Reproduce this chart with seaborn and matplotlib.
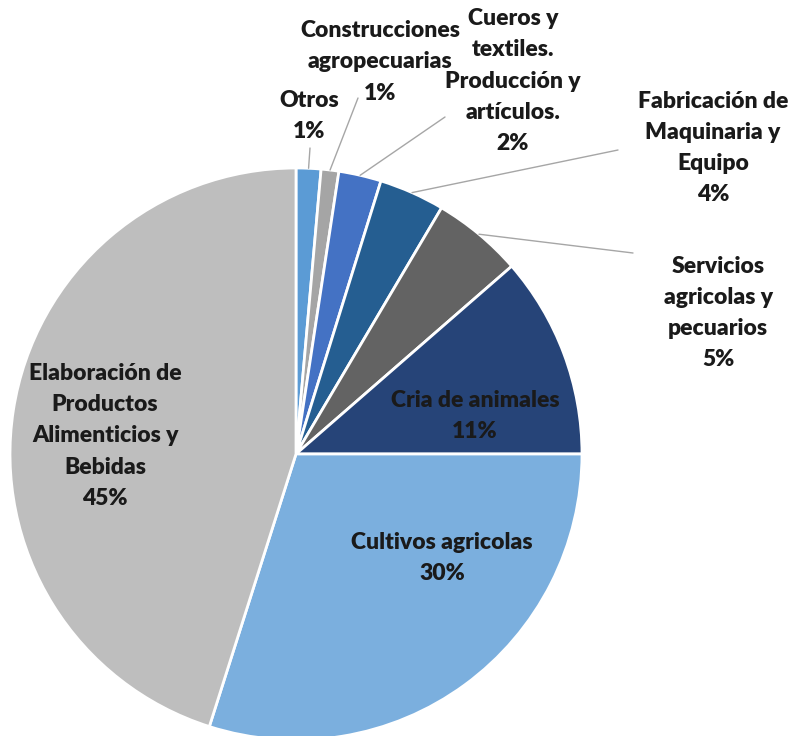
import numpy as np
import matplotlib.pyplot as plt
import seaborn as sns

# sector shares (%), clockwise from 12 o'clock
sectores = ['Otros', 'Construcciones\nagropecuarias', 'Cueros y\ntextiles.\nProducción y\nartículos.',
            'Fabricación de\nMaquinaria y\nEquipo', 'Servicios\nagricolas y\npecuarios',
            'Cria de animales', 'Cultivos agricolas',
            'Elaboración de\nProductos\nAlimenticios y\nBebidas']
shares = [1.4, 1.0, 2.4, 3.7, 5.1, 11.4, 29.9, 45.1]
colores = ['#5B9BD5', '#A5A5A5', '#4472C4', '#255E91', '#636363', '#264478', '#7BAFDE', '#BEBEBE']

sns.set_theme(style='white')
plt.rcParams['font.family'] = ['Lato', 'DejaVu Sans']

W, H = 794, 736
fig = plt.figure(figsize=(W / 100, H / 100), dpi=100)
ax = fig.add_axes([0, 0, 1, 1])
cx, cy, R = 296, H - 454, 286

wedges, _ = ax.pie(shares, colors=colores, startangle=90, counterclock=False,
                   center=(cx, cy), radius=R, frame=True,
                   wedgeprops=dict(edgecolor='white', linewidth=2))
ax.set_xlim(0, W)
ax.set_ylim(0, H)
ax.set_aspect('equal')
ax.axis('off')

# label anchors (pixel layout), inside labels have no leader line
pos = [(309, 116), (380, 62), (513, 81), (713, 148), (718, 313),
       (475, 416), (442, 558), (105, 436)]
leader_end = [(310, 148), (358, 98), (445, 117), (618, 150), (633, 253), None, None, None]

for w, lab, val, (lx, ly), end in zip(wedges, sectores, shares, pos, leader_end):
    ax.text(lx, H - ly, f'{lab}\n{val:.0f}%', ha='center', va='center',
            fontsize=16.5, fontweight='heavy', color='#1a1a1a', linespacing=1.6)
    if end is not None:
        ang = np.deg2rad((w.theta1 + w.theta2) / 2)
        x0, y0 = cx + R * np.cos(ang), cy + R * np.sin(ang)
        ax.plot([x0, end[0]], [y0, H - end[1]], color='#A6A6A6', lw=1)

fig.savefig('out.png', dpi=100)
